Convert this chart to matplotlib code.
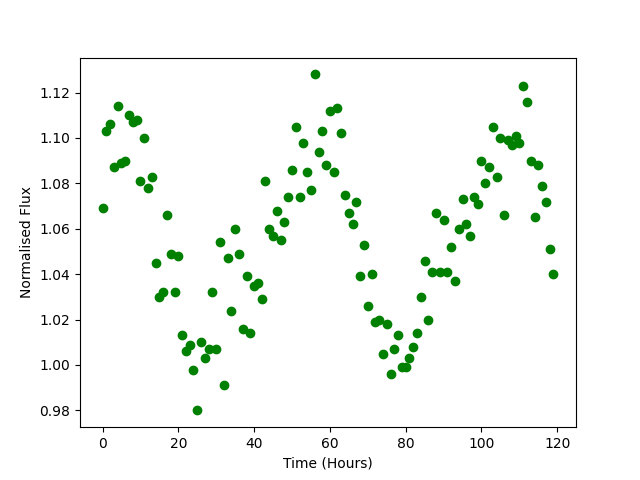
import numpy as np
import matplotlib
matplotlib.use("Agg")
import matplotlib.pyplot as plt

# hourly flux readings, normalised
time_hours = np.arange(120)
flux = [
    1.069, 1.103, 1.106, 1.087, 1.114, 1.089, 1.090, 1.110, 1.107, 1.108,
    1.081, 1.100, 1.078, 1.083, 1.045, 1.030, 1.032, 1.066, 1.049, 1.032,
    1.048, 1.013, 1.006, 1.009, 0.998, 0.980, 1.010, 1.003, 1.007, 1.032,
    1.007, 1.054, 0.991, 1.047, 1.024, 1.060, 1.049, 1.016, 1.039, 1.014,
    1.035, 1.036, 1.029, 1.081, 1.060, 1.057, 1.068, 1.055, 1.063, 1.074,
    1.086, 1.105, 1.074, 1.098, 1.085, 1.077, 1.128, 1.094, 1.103, 1.088,
    1.112, 1.085, 1.113, 1.102, 1.075, 1.067, 1.062, 1.072, 1.039, 1.053,
    1.026, 1.040, 1.019, 1.020, 1.005, 1.018, 0.996, 1.007, 1.013, 0.999,
    0.999, 1.003, 1.008, 1.014, 1.030, 1.046, 1.020, 1.041, 1.067, 1.041,
    1.064, 1.041, 1.052, 1.037, 1.060, 1.073, 1.062, 1.057, 1.074, 1.071,
    1.090, 1.080, 1.087, 1.105, 1.083, 1.100, 1.066, 1.099, 1.097, 1.101,
    1.098, 1.123, 1.116, 1.090, 1.065, 1.088, 1.079, 1.072, 1.051, 1.040,
]

fig, ax = plt.subplots(figsize=(6.4, 4.8), dpi=100)
ax.plot(time_hours, flux, 'o', color='green')
ax.set_xlabel('Time (Hours)')
ax.set_ylabel('Normalised Flux')
fig.savefig('out.png')
